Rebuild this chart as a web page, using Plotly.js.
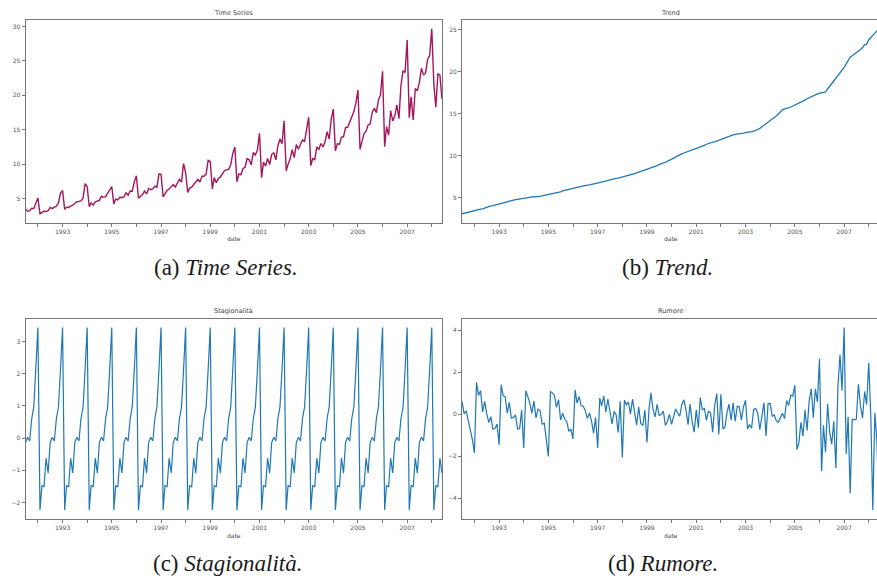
<!DOCTYPE html>
<html>
<head>
<meta charset="utf-8">
<script src="https://cdn.plot.ly/plotly-3.0.1.min.js"></script>
<style>
html,body{margin:0;padding:0;background:#fff;}
#chart{width:877px;height:576px;}
</style>
</head>
<body>
<div id="chart"></div>
<script>
// ---------------- DATA ----------------
// Monthly sales, starting July 1991, ending June 2008
const startYear = 1991;
const startMonth = 7;
const sales = [
  3.527, 3.181, 3.252, 3.611, 3.566, 4.306,
  5.088, 2.815, 2.986, 3.205, 3.128, 3.271, 3.738, 3.559, 3.777, 3.924, 4.387, 5.811,
  6.192, 3.451, 3.772, 3.734, 3.905, 4.050, 4.316, 4.562, 4.609, 4.668, 5.094, 7.180,
  6.731, 3.841, 4.394, 4.075, 4.541, 4.646, 4.753, 5.351, 5.204, 5.302, 5.774, 6.205,
  6.749, 4.216, 4.949, 4.823, 5.195, 5.171, 5.257, 5.855, 5.491, 6.115, 6.088, 7.417,
  8.329, 5.070, 5.263, 5.597, 6.110, 5.689, 6.487, 6.301, 6.467, 6.829, 6.649, 8.607,
  8.524, 5.278, 5.714, 6.215, 6.412, 6.668, 7.051, 6.705, 7.251, 7.820, 7.398, 10.096,
  8.799, 5.918, 6.534, 6.676, 7.064, 7.383, 7.813, 7.432, 8.275, 8.260, 8.596, 10.559,
  10.391, 6.422, 8.063, 7.298, 7.937, 8.165, 8.717, 9.071, 9.177, 9.252, 9.933, 11.533,
  12.511, 7.457, 8.591, 8.474, 9.387, 9.560, 10.834, 10.644, 9.908, 11.710, 11.340, 12.079,
  14.498, 8.049, 10.313, 9.753, 10.850, 9.962, 11.444, 11.659, 10.647, 12.652, 13.674, 12.966,
  16.300, 9.053, 10.002, 10.789, 12.107, 10.954, 12.845, 12.197, 12.855, 13.542, 13.288, 15.135,
  16.828, 9.800, 10.817, 10.654, 12.512, 12.161, 12.998, 12.517, 13.269, 14.734, 13.669, 16.504,
  18.004, 11.938, 12.998, 12.883, 13.943, 13.989, 15.339, 15.371, 16.142, 16.686, 17.637, 18.869,
  20.779, 12.155, 13.402, 14.459, 14.795, 15.705, 15.830, 17.555, 18.101, 17.497, 19.347, 20.031,
  23.487, 12.537, 15.467, 14.234, 17.783, 16.292, 16.980, 18.612, 16.623, 21.430, 23.576, 23.334,
  28.038, 16.764, 19.793, 16.427, 21.001, 20.681, 21.835, 23.930, 22.930, 23.263, 25.250, 25.806,
  29.665, 21.654, 18.265, 23.108, 22.913, 19.432
];
const period = 12;
const panelTitles = ["Time Series", "Trend", "Stagionalità", "Rumore"];
const captions = ["(a) <i>Time Series.</i>", "(b) <i>Trend.</i>", "(c) <i>Stagionalità.</i>", "(d) <i>Rumore.</i>"];
const xLabel = "date";

// ---------------- DATES ----------------
const dates = sales.map((_, i) => {
  const m = startMonth - 1 + i;
  const y = startYear + Math.floor(m / 12);
  const mm = (m % 12) + 1;
  return y + "-" + String(mm).padStart(2, "0") + "-01";
});

// ---------------- ADDITIVE DECOMPOSITION (moving average, period 12) ----------------
const n = sales.length;
const half = period / 2;
const trend = new Array(n).fill(NaN);
for (let t = half; t < n - half; t++) {
  let s = 0;
  for (let k = -half; k <= half; k++) {
    const w = (Math.abs(k) === half) ? 0.5 : 1;
    s += w * sales[t + k];
  }
  trend[t] = s / period;
}
function linfit(idx, vals) {
  const m = idx.length;
  let sx = 0, sy = 0, sxx = 0, sxy = 0;
  for (let i = 0; i < m; i++) { sx += idx[i]; sy += vals[i]; sxx += idx[i] * idx[i]; sxy += idx[i] * vals[i]; }
  const b = (m * sxy - sx * sy) / (m * sxx - sx * sx);
  const a = (sy - b * sx) / m;
  return [a, b];
}
(function extrapolate() {
  const front = half, npts = period;
  let idx = [], vals = [];
  for (let i = front; i < front + npts; i++) { idx.push(i); vals.push(trend[i]); }
  let [a, b] = linfit(idx, vals);
  for (let i = 0; i < front; i++) trend[i] = a + b * i;
  const back = n - 1 - half;
  idx = []; vals = [];
  for (let i = back - npts; i < back; i++) { idx.push(i); vals.push(trend[i]); }
  [a, b] = linfit(idx, vals);
  for (let i = back + 1; i < n; i++) trend[i] = a + b * i;
})();
const detrended = sales.map((v, i) => v - trend[i]);
const periodAvg = [];
for (let p = 0; p < period; p++) {
  let s = 0, c = 0;
  for (let i = p; i < n; i += period) { s += detrended[i]; c++; }
  periodAvg.push(s / c);
}
const avgMean = periodAvg.reduce((a, b) => a + b, 0) / period;
const seasonal = sales.map((_, i) => periodAvg[i % period] - avgMean);
const resid = sales.map((_, i) => detrended[i] - seasonal[i]);

// ---------------- LAYOUT HELPERS ----------------
const W = 877, H = 576;
const px = p => p / W;
const py = p => 1 - p / H;
function padRange(arr) {
  const mn = Math.min(...arr), mx = Math.max(...arr);
  const sp = mx - mn;
  return [mn - 0.05 * sp, mx + 0.05 * sp];
}
const t0 = Date.UTC(1991, 6, 1), t1 = Date.UTC(2008, 5, 1);
function fmt(ms) { return new Date(ms).toISOString().replace("T", " ").replace("Z", ""); }
const fullRange = [fmt(t0), fmt(t1)];
const L1 = 25.5, R1 = 442, L2 = 462, R2full = 879;
const rightRange = [fmt(t0), fmt(t0 + (W - L2) / (R2full - L2) * (t1 - t0))];

const tickFont = {family: "DejaVu Sans, sans-serif", size: 6, color: "#555"};
const frameColor = "#777";
function xaxis(domain, range, anchor) {
  return {
    type: "date", domain: domain, range: range, anchor: anchor,
    showline: true, linecolor: frameColor, linewidth: 1, mirror: true,
    ticks: "outside", ticklen: 3, tickwidth: 0.8, tickcolor: "#555",
    tickformat: "%Y", dtick: "M24", tick0: "1993-01-01",
    tickfont: tickFont, showgrid: false, zeroline: false,
    minor: {dtick: "M12", tick0: "1992-01-01", ticks: "outside", ticklen: 3, tickwidth: 0.8, tickcolor: "#555", showgrid: false}
  };
}
function yaxis(domain, range, dtick, anchor, mirror) {
  return {
    domain: domain, range: range, dtick: dtick, anchor: anchor,
    showline: true, linecolor: frameColor, linewidth: 1, mirror: mirror,
    ticks: "outside", ticklen: 3, tickwidth: 0.8, tickcolor: "#555",
    tickfont: tickFont, showgrid: false, zeroline: false
  };
}
const topDom = [py(223), py(19.5)];
const botDom = [py(519), py(318.5)];

const traces = [
  {x: dates, y: sales, type: "scatter", mode: "lines", line: {color: "#a3165c", width: 1.4}, xaxis: "x", yaxis: "y", hoverinfo: "skip"},
  {x: dates, y: trend, type: "scatter", mode: "lines", line: {color: "#1f77b4", width: 1.3}, xaxis: "x2", yaxis: "y2", hoverinfo: "skip"},
  {x: dates, y: seasonal, type: "scatter", mode: "lines", line: {color: "#1f77b4", width: 1.2}, xaxis: "x3", yaxis: "y3", hoverinfo: "skip"},
  {x: dates, y: resid, type: "scatter", mode: "lines", line: {color: "#1f77b4", width: 1.2}, xaxis: "x4", yaxis: "y4", hoverinfo: "skip"}
];

const ann = [];
const centers = [[(L1 + R1) / 2, 13.3, 238], [(L2 + R2full) / 2, 13.3, 238], [(L1 + R1) / 2, 311, 535], [(L2 + R2full) / 2, 311, 535]];
centers.forEach((c, i) => {
  ann.push({xref: "paper", yref: "paper", x: px(c[0]), y: py(c[1]), text: panelTitles[i], showarrow: false,
    xanchor: "center", yanchor: "middle", font: {family: "DejaVu Sans, sans-serif", size: 6.5, color: "#444"}});
  ann.push({xref: "paper", yref: "paper", x: px(c[0]), y: py(c[2]), text: xLabel, showarrow: false,
    xanchor: "center", yanchor: "middle", font: {family: "DejaVu Sans, sans-serif", size: 6, color: "#444"}});
});
const capPos = [[226, 267.5], [667, 267.5], [227, 563.5], [663, 563.5]];
capPos.forEach((c, i) => {
  ann.push({xref: "paper", yref: "paper", x: px(c[0]), y: py(c[1]), text: captions[i], showarrow: false,
    xanchor: "center", yanchor: "middle", font: {family: "Liberation Serif, serif", size: 23, color: "#1a1a1a"}});
});

const layout = {
  width: W, height: H,
  margin: {l: 0, r: 0, t: 0, b: 0},
  paper_bgcolor: "#fff", plot_bgcolor: "#fff",
  showlegend: false,
  xaxis: xaxis([px(L1), px(R1)], fullRange, "y"),
  yaxis: yaxis(topDom, padRange(sales), 5, "x", true),
  xaxis2: xaxis([px(L2), 1], rightRange, "y2"),
  yaxis2: yaxis(topDom, padRange(trend), 5, "x2", false),
  xaxis3: xaxis([px(L1), px(R1)], fullRange, "y3"),
  yaxis3: yaxis(botDom, padRange(seasonal), 1, "x3", true),
  xaxis4: xaxis([px(L2), 1], rightRange, "y4"),
  yaxis4: yaxis(botDom, padRange(resid), 2, "x4", false),
  annotations: ann
};

Plotly.newPlot("chart", traces, layout, {staticPlot: true, displayModeBar: false});
</script>
</body>
</html>
